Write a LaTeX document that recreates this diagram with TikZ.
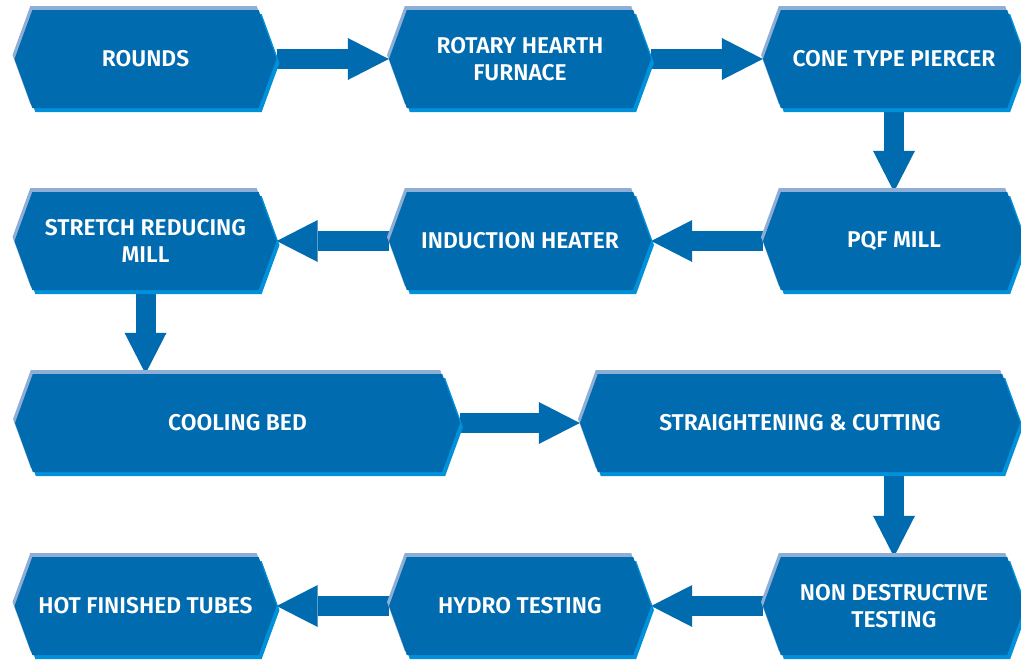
\documentclass[tikz,border=0pt]{standalone}
\usepackage{fontspec}
\setmainfont{Fira Sans}[BoldFont={Fira Sans SemiBold}]
\usetikzlibrary{shapes.symbols,arrows.meta,backgrounds}
\definecolor{stageblue}{RGB}{0,107,174}
\definecolor{stagelight}{RGB}{143,174,214}
\definecolor{stagebright}{RGB}{0,145,218}
\tikzset{
	stage/.style={signal, signal to=east and west, signal pointer angle=140,
		fill=stageblue, text=white, align=center, inner sep=0pt,
		font=\bfseries\fontsize{22.8}{27.5}\selectfont,
		minimum height=98pt, minimum width=262pt,
		preaction={fill=stagelight, transform canvas={shift={(-2pt,4pt)}}},
		preaction={fill=stagebright, transform canvas={shift={(3pt,-4pt)}}}},
	widestage/.style={stage, minimum width=#1},
	flow/.style={draw=stageblue, line width=20pt,
		-{Triangle[length=41pt,width=42pt,line width=0pt]}}
}
\begin{document}
\begin{tikzpicture}[x=1pt,y=-1pt]
			%%%%% START %%%%%
			\useasboundingbox (0,0) rectangle (1021,662);
			
			\node[stage] (rounds) at (145.5,59) {ROUNDS};
			\node[stage] (rotary) at (520,59) {ROTARY HEARTH\\FURNACE};
			\node[stage] (piercer) at (894,59) {CONE TYPE PIERCER};
			
			\node[stage] (pqf) at (894,241) {PQF MILL};
			\node[stage] (induction) at (520,241) {INDUCTION HEATER};
			\node[stage] (stretch) at (145.5,241) {STRETCH REDUCING\\MILL};
			
			\node[widestage=445pt] (cooling) at (237.5,423) {COOLING BED};
			\node[widestage=440pt] (straight) at (800,423) {STRAIGHTENING \& CUTTING};
			
			\node[stage] (ndt) at (894,606) {NON DESTRUCTIVE\\TESTING};
			\node[stage] (hydro) at (520,606) {HYDRO TESTING};
			\node[stage] (hot) at (145.5,606) {HOT FINISHED TUBES};
			
			\begin{scope}[on background layer]
			\draw[flow] (rounds.east) -- (rotary.west);
			\draw[flow] (rotary.east) -- (piercer.west);
			\draw[flow] (piercer.south) -- (pqf.north);
			\draw[flow] (pqf.west) -- (induction.east);
			\draw[flow] (induction.west) -- (stretch.east);
			\draw[flow] (stretch.south) -- (stretch.south |- cooling.north);
			\draw[flow] (cooling.east) -- (straight.west);
			\draw[flow] (ndt.north |- straight.south) -- (ndt.north);
			\draw[flow] (ndt.west) -- (hydro.east);
			\draw[flow] (hydro.west) -- (hot.east);
			\end{scope}
			%%%%% END %%%%%
\end{tikzpicture}
\end{document}
